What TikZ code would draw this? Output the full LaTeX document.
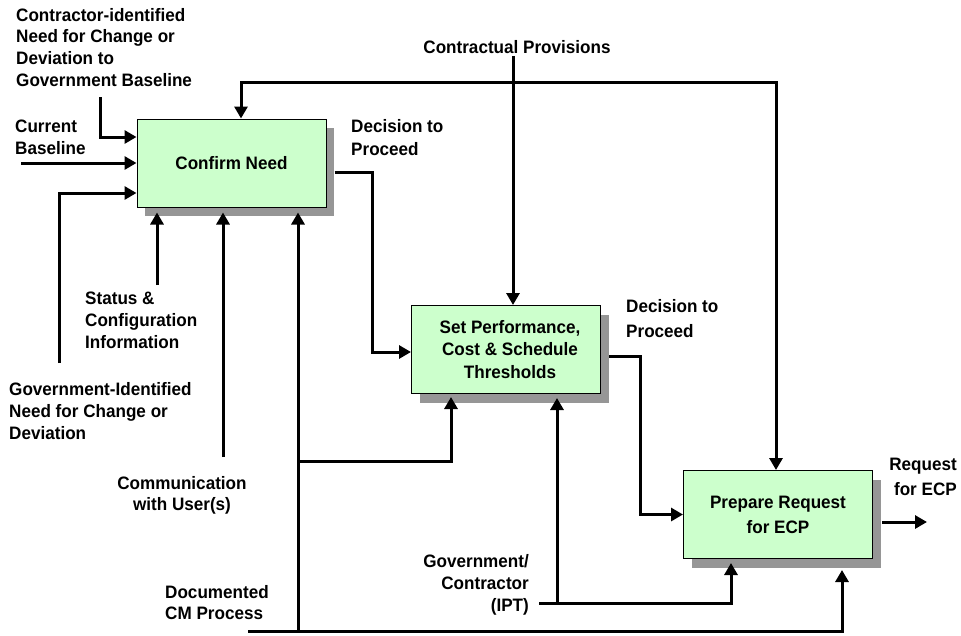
\documentclass[tikz,border=0pt]{standalone}
\usepackage{fontspec}
\setmainfont{Liberation Sans}[FakeStretch=0.95]
\usetikzlibrary{arrows.meta,shadows}
\definecolor{boxfill}{HTML}{CCFFCC}
\definecolor{shadowgray}{HTML}{969696}
\tikzset{
  >={Triangle[length=12pt,width=13pt]},
  flow/.style={line width=3pt,line cap=butt,line join=miter},
  proc/.style={draw=black,line width=1pt,fill=boxfill,
    minimum width=189pt,minimum height=88pt,align=center,inner sep=0pt,
    font=\fontsize{18}{22.5}\selectfont\bfseries,
    drop shadow={shadow xshift=8pt,shadow yshift=-9pt,fill=shadowgray,opacity=1}},
  lbl/.style={inner sep=0pt,align=left,font=\fontsize{18}{21.7}\selectfont\bfseries},
}
\begin{document}
\begin{tikzpicture}[x=1pt,y=-1pt]
\useasboundingbox (0,0) rectangle (961,635);

% activity boxes
\node[proc] (b1) at (231.5,163) {\raisebox{-4pt}{Confirm Need}};
\node[proc] (b2) at (506,349.5) {\hspace*{8pt}Set Performance,\\\hspace*{8pt}Cost \& Schedule\\\hspace*{8pt}Thresholds};
\node[proc,font=\fontsize{18}{25}\selectfont\bfseries] (b3) at (778,514.5) {Prepare Request\\for ECP};

% labels
\node[lbl,anchor=north west] (lci) at (16,8) {Contractor-identified\\Need for Change or\\Deviation to\\Government Baseline};
\node[lbl,anchor=north west] (lcb) at (15,120) {Current\\Baseline};
\node[lbl,anchor=north west,font=\fontsize{18}{23}\selectfont\bfseries] (ld1) at (351,119) {Decision to\\Proceed};
\node[lbl,anchor=base] (lcp) at (517,53) {Contractual Provisions};
\node[lbl,anchor=north west] (lst) at (85,292) {Status \&\\Configuration\\Information};
\node[lbl,anchor=north west] (lgi) at (9,382.5) {Government-Identified\\Need for Change or\\Deviation};
\node[lbl,anchor=north,align=center] (lcu) at (182,476) {Communication\\with User(s)};
\node[lbl,anchor=north west] (ldm) at (165,585) {Documented\\CM Process};
\node[lbl,anchor=north east,align=right] (lip) at (529,554.5) {Government/\\Contractor\\(IPT)};
\node[lbl,anchor=north west,font=\fontsize{18}{25}\selectfont\bfseries] (ld2) at (626,299) {Decision to\\Proceed};
\node[lbl,anchor=north east,align=right,font=\fontsize{18}{25}\selectfont\bfseries] (lrq) at (957,458) {Request\\for ECP};

% connector end points and bends
\coordinate (ci) at (100,97);
\coordinate (cb) at (21,163);
\coordinate (gi) at (59,363);
\coordinate (st) at (157,285);
\coordinate (cu) at (223,457);
\coordinate (dm) at (298,631);
\coordinate (br) at (298,461);
\coordinate (bl) at (248,631);
\coordinate (ip) at (539,603);
\coordinate (ipb) at (557,603);
\coordinate (cp) at (513,56);
\coordinate (tl) at (241,82);
\coordinate (tr) at (776,82);
\coordinate (d1) at (372,172);
\coordinate (d2) at (640,356);
\coordinate (out) at (927,522);
\coordinate (b1s) at ([yshift=-5pt]b1.south);

% inputs to Confirm Need
\draw[flow,->] (ci) |- ([yshift=26pt]b1.west);
\draw[flow,->] (cb) -- (b1.west);
\draw[flow,->] (gi) |- ([yshift=-30pt]b1.west);
\draw[flow,->] (st) -- (st |- b1s);
\draw[flow,->] (cu) -- (cu |- b1s);
\draw[flow,->] (dm) -- (dm |- b1s);

% contractual provisions
\draw[flow,->] (cp) -- (cp |- b2.north);
\draw[flow,<->] (b1.north -| tl) -- (tl) -- (tr) -- (b3.north -| tr);

% decisions to proceed
\draw[flow,->] ([xshift=8pt,yshift=-9pt]b1.east) -- (d1) |- ([yshift=-2.5pt]b2.west);
\draw[flow,->] ([xshift=8pt,yshift=-6.5pt]b2.east) -- (d2) |- (b3.west);

% mechanisms
\draw[flow,->] (br) -| ([xshift=-55pt,yshift=-3pt]b2.south);
\draw[flow,->] (bl) -| ([xshift=64pt,yshift=-11pt]b3.south);
\draw[flow,->] (ip) -| ([xshift=-47pt,yshift=-4pt]b3.south);
\draw[flow,->] (ipb) -- ([xshift=51pt,yshift=-4pt]b2.south);

% output
\draw[flow,->] ([xshift=9pt,yshift=-7.5pt]b3.east) -- (out);
\end{tikzpicture}
\end{document}
